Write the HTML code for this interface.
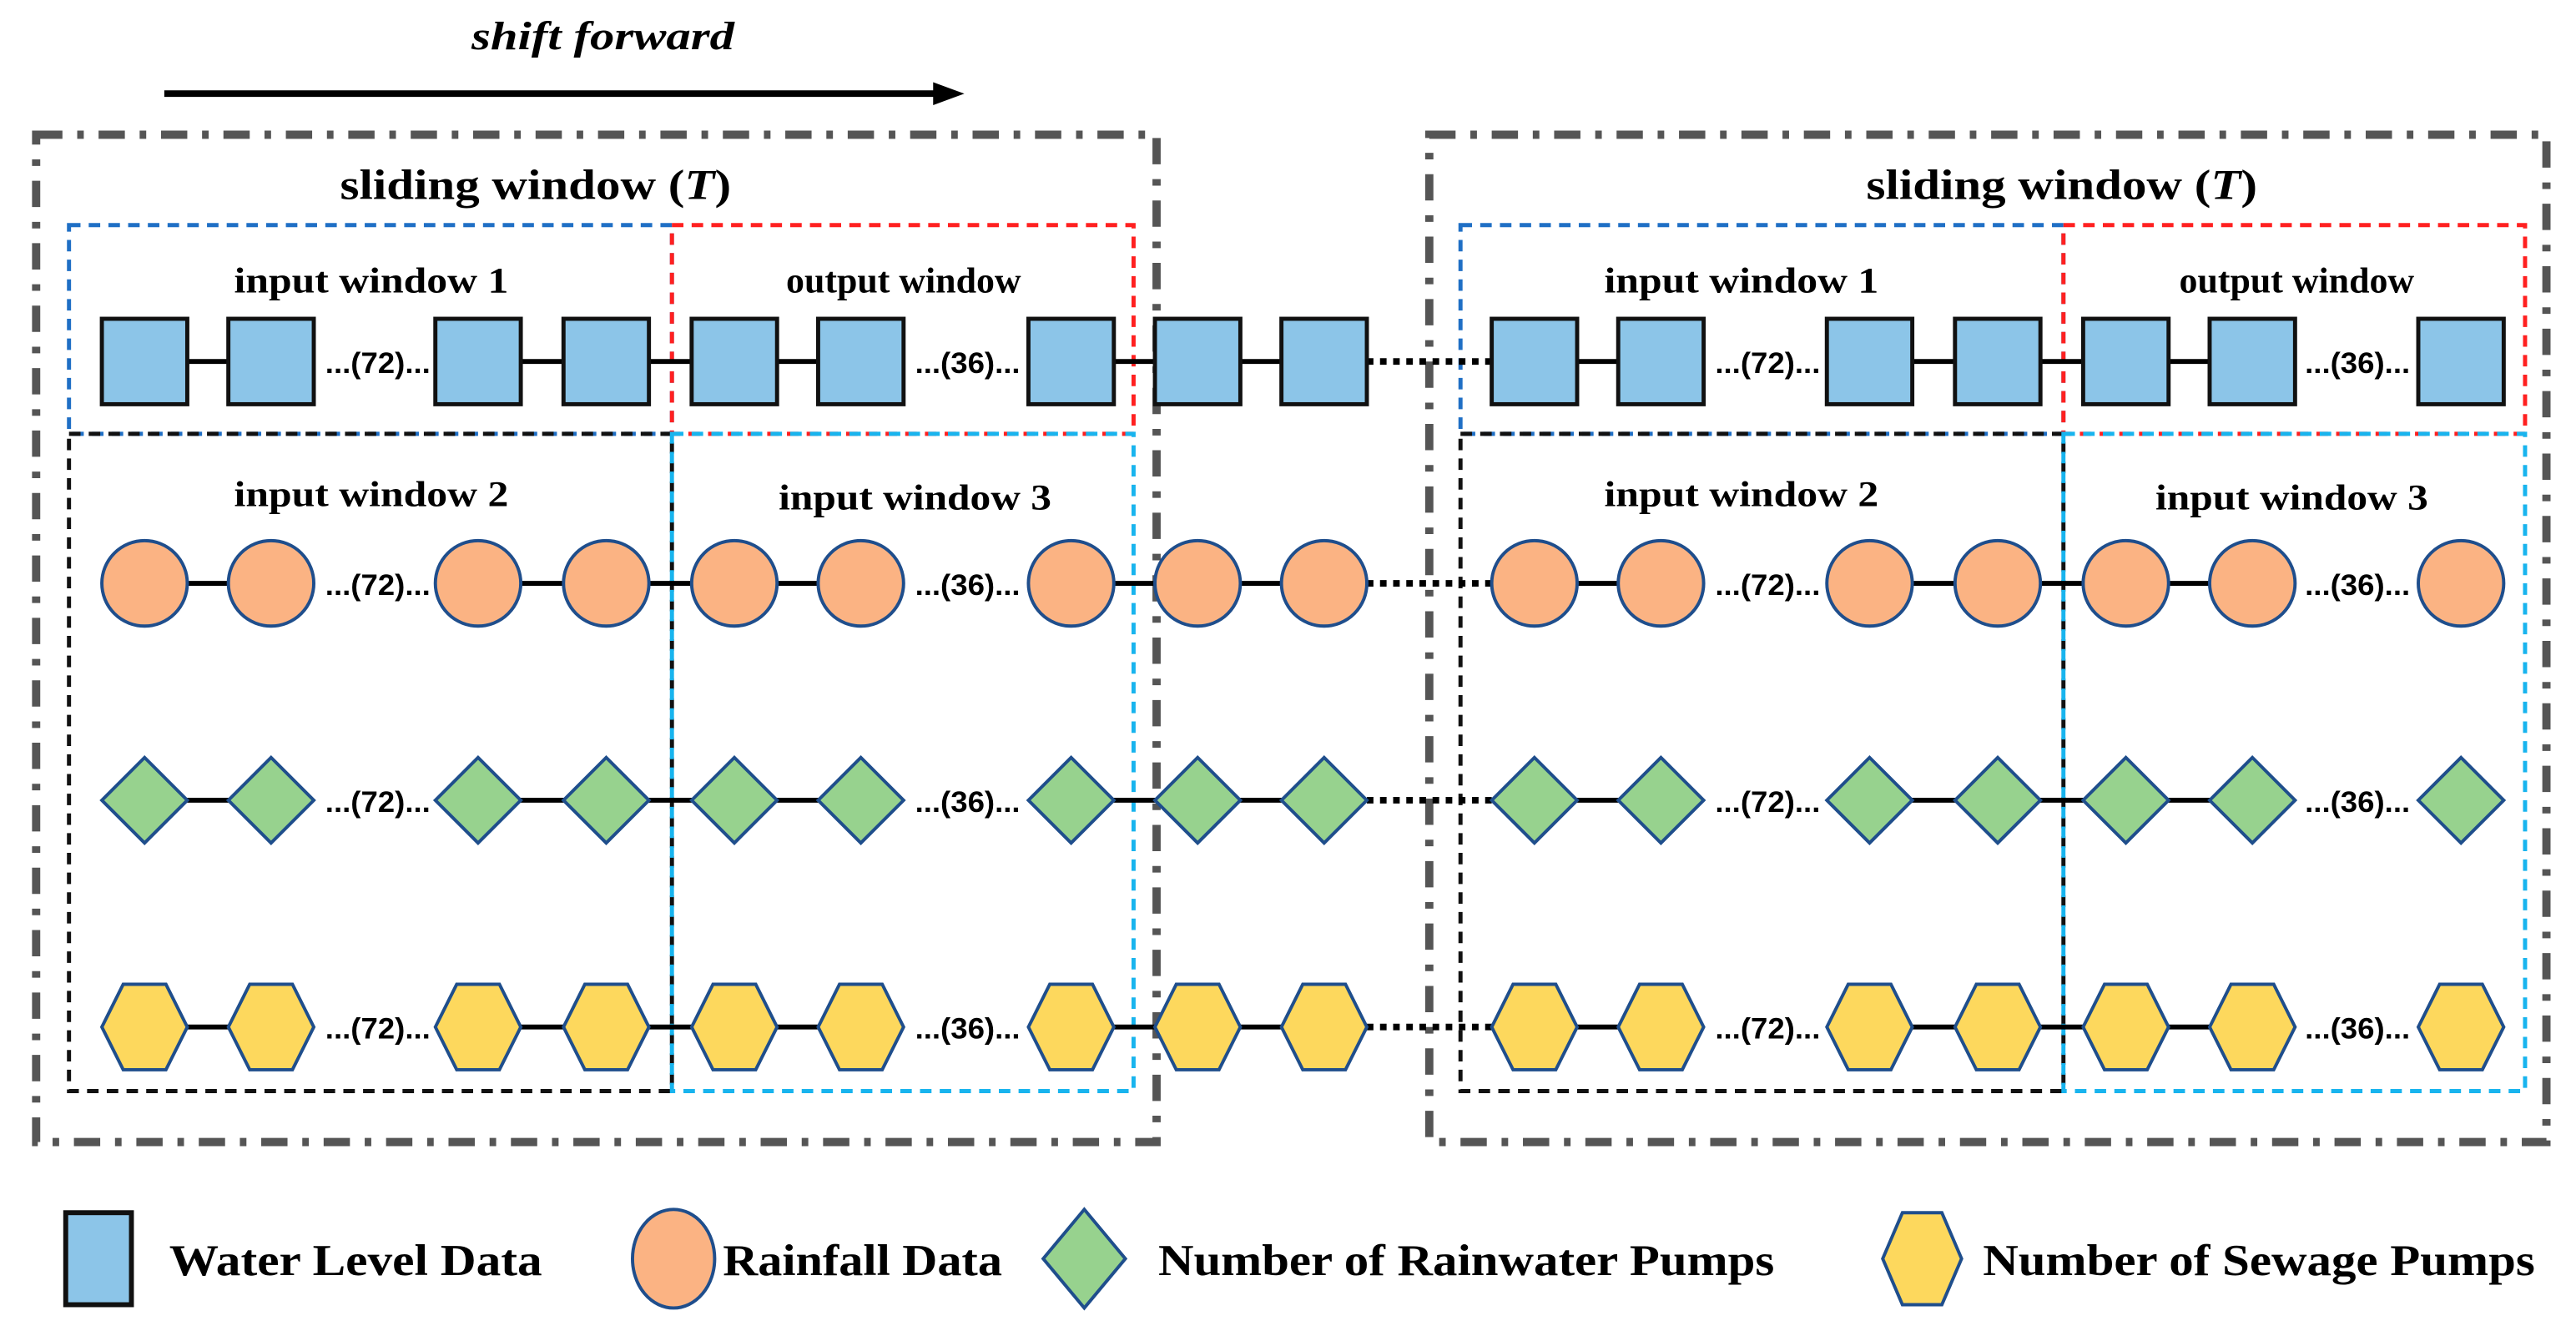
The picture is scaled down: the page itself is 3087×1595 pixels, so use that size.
<!DOCTYPE html>
<html><head><meta charset="utf-8"><style>
html,body{margin:0;padding:0;background:#fff;}
svg{display:block;}
.t{font-family:"Liberation Serif",serif;font-weight:bold;fill:#000;}
.d{font-family:"Liberation Sans",sans-serif;font-weight:bold;fill:#000;font-size:18px;}
</style></head><body>
<svg id="s" width="3087" height="1595" viewBox="0 0 1568 810" preserveAspectRatio="none" xmlns="http://www.w3.org/2000/svg">
<rect width="1568" height="810" fill="#fff"/>
<text class="t" x="367" y="30" font-size="24" font-style="italic" text-anchor="middle" textLength="160" lengthAdjust="spacingAndGlyphs">shift forward</text>
<line x1="100" y1="57" x2="570" y2="57" stroke="#000" stroke-width="4"/>
<polygon points="568,50 587,57 568,64" fill="#000"/>
<g fill="none" stroke="#555" stroke-width="5" stroke-dasharray="16 9 4 9">
<rect x="22" y="82" width="682" height="613"/>
<rect x="870" y="82" width="680" height="613"/>
</g>
<text class="t" x="326" y="121" font-size="26" text-anchor="middle" textLength="238" lengthAdjust="spacingAndGlyphs">sliding window (<tspan font-style="italic">T</tspan>)</text>
<text class="t" x="1255" y="121" font-size="26" text-anchor="middle" textLength="238" lengthAdjust="spacingAndGlyphs">sliding window (<tspan font-style="italic">T</tspan>)</text>
<g id="boxes" fill="none" stroke-width="2.5" stroke-dasharray="7 5"></g>
<g id="nodes"></g>
<g font-size="22">
<text class="t" x="226" y="178" font-size="22" text-anchor="middle" textLength="167" lengthAdjust="spacingAndGlyphs">input window 1</text>
<text class="t" x="550" y="178" font-size="22" text-anchor="middle" textLength="143" lengthAdjust="spacingAndGlyphs">output window</text>
<text class="t" x="226" y="308" font-size="22" text-anchor="middle" textLength="167" lengthAdjust="spacingAndGlyphs">input window 2</text>
<text class="t" x="557" y="310" font-size="22" text-anchor="middle" textLength="166" lengthAdjust="spacingAndGlyphs">input window 3</text>
<text class="t" x="1060" y="178" font-size="22" text-anchor="middle" textLength="167" lengthAdjust="spacingAndGlyphs">input window 1</text>
<text class="t" x="1398" y="178" font-size="22" text-anchor="middle" textLength="143" lengthAdjust="spacingAndGlyphs">output window</text>
<text class="t" x="1060" y="308" font-size="22" text-anchor="middle" textLength="167" lengthAdjust="spacingAndGlyphs">input window 2</text>
<text class="t" x="1395" y="310" font-size="22" text-anchor="middle" textLength="166" lengthAdjust="spacingAndGlyphs">input window 3</text>
</g>
<g id="dots">
<text class="d" x="230" y="227" text-anchor="middle" textLength="64" lengthAdjust="spacingAndGlyphs">...(72)...</text>
<text class="d" x="589" y="227" text-anchor="middle" textLength="64" lengthAdjust="spacingAndGlyphs">...(36)...</text>
<text class="d" x="1076" y="227" text-anchor="middle" textLength="64" lengthAdjust="spacingAndGlyphs">...(72)...</text>
<text class="d" x="1435" y="227" text-anchor="middle" textLength="64" lengthAdjust="spacingAndGlyphs">...(36)...</text>
<text class="d" x="230" y="362" text-anchor="middle" textLength="64" lengthAdjust="spacingAndGlyphs">...(72)...</text>
<text class="d" x="589" y="362" text-anchor="middle" textLength="64" lengthAdjust="spacingAndGlyphs">...(36)...</text>
<text class="d" x="1076" y="362" text-anchor="middle" textLength="64" lengthAdjust="spacingAndGlyphs">...(72)...</text>
<text class="d" x="1435" y="362" text-anchor="middle" textLength="64" lengthAdjust="spacingAndGlyphs">...(36)...</text>
<text class="d" x="230" y="494" text-anchor="middle" textLength="64" lengthAdjust="spacingAndGlyphs">...(72)...</text>
<text class="d" x="589" y="494" text-anchor="middle" textLength="64" lengthAdjust="spacingAndGlyphs">...(36)...</text>
<text class="d" x="1076" y="494" text-anchor="middle" textLength="64" lengthAdjust="spacingAndGlyphs">...(72)...</text>
<text class="d" x="1435" y="494" text-anchor="middle" textLength="64" lengthAdjust="spacingAndGlyphs">...(36)...</text>
<text class="d" x="230" y="632" text-anchor="middle" textLength="64" lengthAdjust="spacingAndGlyphs">...(72)...</text>
<text class="d" x="589" y="632" text-anchor="middle" textLength="64" lengthAdjust="spacingAndGlyphs">...(36)...</text>
<text class="d" x="1076" y="632" text-anchor="middle" textLength="64" lengthAdjust="spacingAndGlyphs">...(72)...</text>
<text class="d" x="1435" y="632" text-anchor="middle" textLength="64" lengthAdjust="spacingAndGlyphs">...(36)...</text>
</g>
<g id="legend"></g>
<text class="t" x="103" y="776" font-size="27" textLength="227" lengthAdjust="spacingAndGlyphs">Water Level Data</text>
<text class="t" x="440" y="776" font-size="27" textLength="170" lengthAdjust="spacingAndGlyphs">Rainfall Data</text>
<text class="t" x="705" y="776" font-size="27" textLength="375" lengthAdjust="spacingAndGlyphs">Number of Rainwater Pumps</text>
<text class="t" x="1207" y="776" font-size="27" textLength="336" lengthAdjust="spacingAndGlyphs">Number of Sewage Pumps</text>
</svg>
<script>
var NS="http://www.w3.org/2000/svg";
function el(p,n,a){var e=document.createElementNS(NS,n);for(var k in a)e.setAttribute(k,a[k]);p.appendChild(e);return e;}
var B=document.getElementById("boxes");
[[0,0],[847,0]].forEach(function(o){var d=o[0];
el(B,"rect",{x:42+d,y:137,width:367,height:127,stroke:"#1f6fc5"});
el(B,"rect",{x:409+d,y:137,width:281,height:127,stroke:"#ff2020"});
el(B,"rect",{x:42+d,y:264,width:367,height:400,stroke:"#111"});
el(B,"rect",{x:409+d,y:264,width:281,height:400,stroke:"#18b4ee"});
});
var N=document.getElementById("nodes");
var L=[88,165,291,369,447,524,652,729,806];
var R=[934,1011,1138,1216,1294,1371,1498];
var rows=[220,355,487,625];
var links=[[88,165],[291,524],[652,806],[934,1011],[1138,1371]];
function shape(g,t,cx,cy,s){
 var h=s/2;
 if(t==0) el(g,"rect",{x:cx-h,y:cy-h,width:s,height:s,fill:"#8cc5e8",stroke:"#111","stroke-width":2.5});
 else if(t==1) el(g,"ellipse",{cx:cx,cy:cy,rx:h,ry:h,fill:"#fbb383",stroke:"#1f4e8c","stroke-width":2});
 else if(t==2) el(g,"polygon",{points:(cx-h)+","+cy+" "+cx+","+(cy-h)+" "+(cx+h)+","+cy+" "+cx+","+(cy+h),fill:"#97d28e",stroke:"#1f4e8c","stroke-width":2});
 else el(g,"polygon",{points:(cx-h)+","+cy+" "+(cx-h/2)+","+(cy-h)+" "+(cx+h/2)+","+(cy-h)+" "+(cx+h)+","+cy+" "+(cx+h/2)+","+(cy+h)+" "+(cx-h/2)+","+(cy+h),fill:"#fdd85d",stroke:"#1f4e8c","stroke-width":2});
}
rows.forEach(function(y,t){
 links.forEach(function(l){el(N,"line",{x1:l[0],y1:y,x2:l[1],y2:y,stroke:"#000","stroke-width":3});});
 el(N,"line",{x1:832,y1:y,x2:908,y2:y,stroke:"#000","stroke-width":4,"stroke-dasharray":"4 4"});
 L.concat(R).forEach(function(x){shape(N,t,x,y,52);});
});
var G=document.getElementById("legend");
el(G,"rect",{x:40,y:738,width:40,height:56,fill:"#8cc5e8",stroke:"#111","stroke-width":3});
el(G,"ellipse",{cx:410,cy:766,rx:25,ry:30,fill:"#fbb383",stroke:"#1f4e8c","stroke-width":2});
el(G,"polygon",{points:"635,766 660,736 685,766 660,796",fill:"#97d28e",stroke:"#1f4e8c","stroke-width":2});
el(G,"polygon",{points:"1146,766 1158,738 1182,738 1194,766 1182,794 1158,794",fill:"#fdd85d",stroke:"#1f4e8c","stroke-width":2});
</script>
</body></html>
